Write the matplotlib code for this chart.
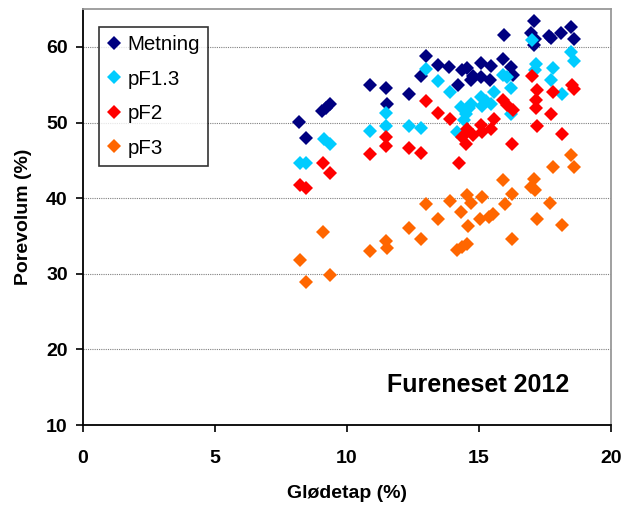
import matplotlib
matplotlib.use("Agg")
import matplotlib.pyplot as plt

plt.rcParams['font.family'] = ['Liberation Sans', 'DejaVu Sans']

# Glødetap (%) vs porevolum (%) for each water content level
metning_x = [8.20, 8.45, 9.06, 9.20, 9.35, 10.87, 11.47, 11.53, 12.35, 12.79, 12.99, 13.46,
             13.87, 14.22, 14.37, 14.56, 14.69, 14.76, 15.07, 15.07, 15.45, 15.42, 15.93,
             16.21, 16.28, 15.95, 16.96, 17.09, 17.09, 17.13, 17.66, 17.75, 18.11, 18.48, 18.61]
metning_y = [50.1, 48.0, 51.5, 51.9, 52.4, 55.0, 54.6, 52.5, 53.8, 56.2, 58.8, 57.6,
             57.3, 55.0, 56.9, 57.2, 55.6, 56.2, 57.9, 56.0, 57.5, 55.6, 58.4,
             57.4, 56.3, 61.6, 61.8, 63.4, 60.3, 61.0, 61.4, 61.2, 61.9, 62.6, 61.1]

pf13_x = [8.21, 8.45, 9.12, 9.35, 10.87, 11.47, 11.50, 12.35, 12.82, 12.99, 13.46, 13.89,
          14.31, 14.50, 14.63, 14.16, 14.43, 14.72, 15.07, 15.13, 15.26, 15.45, 15.56, 15.93,
          16.05, 16.21, 16.21, 17.02, 17.16, 17.12, 17.79, 17.72, 18.15, 18.48, 18.61]
pf13_y = [44.6, 44.7, 47.8, 47.2, 48.9, 51.3, 49.5, 49.5, 49.3, 57.1, 55.5, 54.0,
          52.0, 51.2, 51.9, 48.8, 50.3, 52.4, 53.4, 52.2, 52.8, 52.5, 54.1, 56.3,
          56.0, 54.6, 51.2, 60.9, 57.8, 56.9, 57.2, 55.6, 53.8, 59.4, 58.1]

pf2_x = [8.21, 8.45, 9.09, 9.35, 10.87, 11.47, 11.50, 12.35, 12.82, 12.99, 13.46, 13.89,
         14.25, 14.56, 14.37, 14.50, 14.76, 15.07, 15.13, 15.45, 15.56, 15.93, 16.08, 16.28,
         16.25, 17.02, 17.19, 17.16, 17.16, 17.19, 17.79, 17.72, 18.15, 18.51, 18.61]
pf2_y = [41.7, 41.4, 44.7, 43.3, 45.8, 48.1, 46.9, 46.7, 46.0, 52.8, 51.3, 50.5,
         44.7, 49.2, 48.1, 47.2, 48.3, 49.7, 48.8, 49.2, 50.5, 53.0, 52.3, 51.6,
         47.2, 56.1, 54.3, 53.0, 51.9, 49.5, 54.1, 51.1, 48.5, 55.0, 54.5]

pf3_x = [8.21, 8.45, 9.09, 9.35, 10.87, 11.47, 11.53, 12.35, 12.82, 12.99, 13.46, 13.89,
         14.33, 14.19, 14.37, 14.56, 14.59, 14.56, 14.72, 15.10, 15.04, 15.39, 15.54, 15.93,
         15.99, 16.24, 16.24, 17.09, 16.99, 17.12, 17.19, 17.70, 17.79, 18.15, 18.48, 18.59]
pf3_y = [31.8, 28.9, 35.5, 29.9, 33.0, 34.3, 33.4, 36.1, 34.6, 39.2, 37.3, 39.6,
         38.2, 33.2, 33.5, 34.0, 36.3, 40.4, 39.4, 40.2, 37.3, 37.5, 37.9, 42.4,
         39.2, 40.5, 34.6, 42.6, 41.5, 41.1, 37.3, 39.4, 44.1, 36.5, 45.7, 44.1]

fig = plt.figure(figsize=(6.33, 5.09), dpi=100)
ax = fig.add_axes([0.131, 0.165, 0.834, 0.817])

ax.plot(metning_x, metning_y, 'D', color='#000080', ms=7, mew=0, label='Metning')
ax.plot(pf13_x, pf13_y, 'D', color='#00CCFF', ms=7, mew=0, label='pF1.3')
ax.plot(pf2_x, pf2_y, 'D', color='#FF0000', ms=7, mew=0, label='pF2')
ax.plot(pf3_x, pf3_y, 'D', color='#FF6600', ms=7, mew=0, label='pF3')

ax.set_xlim(0, 20)
ax.set_ylim(10, 65)
ax.set_xticks([0, 5, 10, 15, 20])
ax.set_yticks([10, 20, 30, 40, 50, 60])
ax.yaxis.grid(True, color='#808080', linestyle=(0, (1, 1)), linewidth=0.8)
ax.set_axisbelow(True)

ax.spines['left'].set_color('black')
ax.spines['bottom'].set_color('black')
ax.spines['top'].set_color('#999999')
ax.spines['right'].set_color('#999999')
for s in ax.spines.values():
    s.set_linewidth(1.3)

ax.tick_params(direction='out', length=5, width=1.2, labelsize=14)
ax.tick_params(axis='y', pad=6)
ax.tick_params(axis='x', pad=13)
for lab in ax.get_xticklabels() + ax.get_yticklabels():
    lab.set_fontweight('bold')

ax.set_xlabel('Glødetap (%)', fontsize=14, fontweight='bold', labelpad=13)
ax.set_ylabel('Porevolum (%)', fontsize=14, fontweight='bold', labelpad=10)

leg = ax.legend(loc='upper left', bbox_to_anchor=(0.030, 0.957), borderaxespad=0,
                fontsize=14.8, frameon=True, fancybox=False, edgecolor='black',
                borderpad=0.4, handletextpad=0.3, handlelength=0.7, labelspacing=0.75,
                markerscale=1.0)
leg.get_frame().set_linewidth(1.2)

ax.text(0.748, 0.096, 'Fureneset 2012', transform=ax.transAxes, fontsize=18,
        fontweight='bold', ha='center', va='center')

fig.savefig('out.png', dpi=100)
